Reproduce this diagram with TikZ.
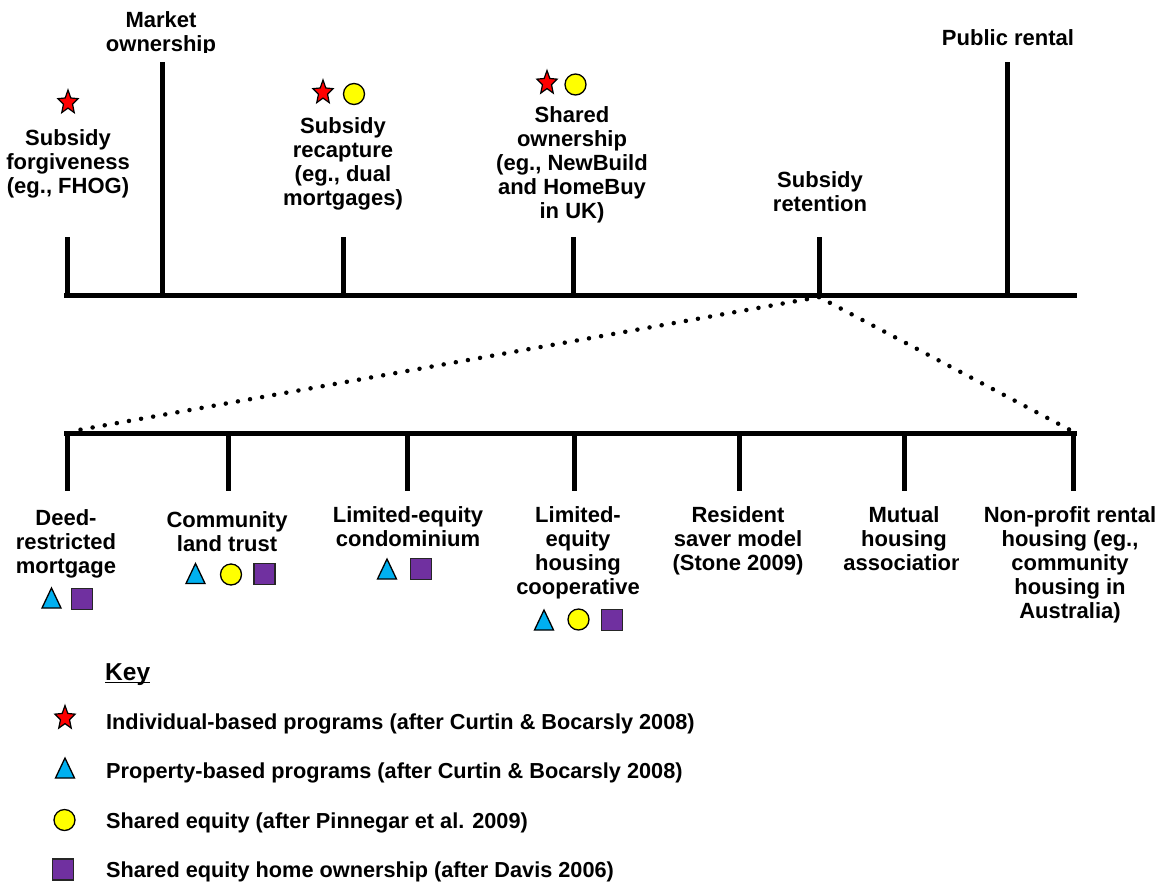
\documentclass[tikz,border=0pt]{standalone}
\usepackage{fontspec}
\setmainfont{Liberation Sans}
\definecolor{starred}{RGB}{255,0,0}
\definecolor{tricyan}{RGB}{0,176,240}
\definecolor{dotyellow}{RGB}{255,255,0}
\definecolor{sqpurple}{RGB}{112,48,160}
\begin{document}
\begin{tikzpicture}[x=1pt,y=-1pt,
  axisline/.style={line width=5pt},
  tickline/.style={line width=5pt},
  fan/.style={line width=4.5pt, line cap=round, dash pattern=on 0pt off 12.3pt},
  lbl/.style={font=\bfseries\fontsize{22}{24.2}\selectfont, align=center, inner sep=0pt, anchor=north},
  keytxt/.style={font=\bfseries\fontsize{21.7}{24}\selectfont, inner sep=0pt, anchor=base west},
  circsym/.style={circle, draw=black, line width=1.3pt, fill=dotyellow, minimum size=21pt, inner sep=0pt},
  sqsym/.style={rectangle, draw=black!85, line width=1.3pt, fill=sqpurple, minimum size=21pt, inner sep=0pt},
  starsym/.pic={\draw[fill=starred, line width=1.2pt, line join=miter, xscale=0.85, yscale=-1]
      (90:12.5) -- (126:5.6) -- (162:12.5) -- (198:5.6) -- (234:12.5) -- (270:5.6)
      -- (306:12.5) -- (342:5.6) -- (18:12.5) -- (54:5.6) -- cycle;},
  trisym/.pic={\draw[fill=tricyan, line width=1.3pt, line join=miter]
      (-9.5,10) -- (9.5,10) -- (0,-10) -- cycle;}
]
\useasboundingbox (0,0) rectangle (1166,881);

% ---------- top axis ----------
\coordinate (tA) at (64,295);
\coordinate (tB) at (1077,295);
\draw[axisline] (tA) -- (tB);
\foreach \x/\t/\n in {67/237/f, 162/62/m, 343/237/r, 573/237/s, 819/237/ret, 1007/62/p}{
  \coordinate (tt\n) at (\x,\t);
  \coordinate (tb\n) at (\x,295);
  \draw[tickline] (tt\n) -- (tb\n);
}

% ---------- bottom axis ----------
\coordinate (bA) at (64,433);
\coordinate (bB) at (1077,433);
\draw[axisline] (bA) -- (bB);
\foreach \x/\n in {67/d, 228/c, 407/le, 574/lh, 739/rs, 904/mh, 1073/np}{
  \coordinate (bt\n) at (\x,433);
  \coordinate (bb\n) at (\x,491);
  \draw[tickline] (bt\n) -- (bb\n);
}

% ---------- dotted fan ----------
\coordinate (fanTop) at (819,297);
\coordinate (fanL) at (73,431);
\coordinate (fanR) at (1072,431);
\draw[fan] (fanTop) -- (fanL);
\draw[fan] (fanTop) -- (fanR);

% ---------- top labels ----------
\begin{scope}
  \clip (90,0) rectangle (240,52);
  \node[lbl] (lm) at (161,11) {Market\\ownership};
\end{scope}
\node[lbl] (lf) at (68,129) {Subsidy\\forgiveness\\(eg., FHOG)};
\node[lbl] (lr) at (343,117) {Subsidy\\recapture\\(eg., dual\\mortgages)};
\begin{scope}
  \clip (470,90) rectangle (680,222);
  \node[lbl] (ls) at (572,106) {Shared\\ownership\\(eg., NewBuild\\and HomeBuy\\in UK)};
\end{scope}
\node[lbl] (lret) at (820,171) {Subsidy\\retention};
\node[lbl] (lp) at (1008,29) {Public rental};

% top symbols
\pic at (68,102.5) {starsym};
\pic at (323,92.5) {starsym};
\node[circsym] (cr) at (354,94) {};
\pic at (547,83) {starsym};
\node[circsym] (cs) at (575.5,84.5) {};

% ---------- bottom labels ----------
\node[lbl] (ld) at (66,509) {Deed-\\restricted\\mortgage};
\node[lbl] (lc) at (227,511) {Community\\land trust};
\node[lbl] (lle) at (408,506) {Limited-equity\\condominium};
\node[lbl] (llh) at (578,506) {Limited-\\equity\\housing\\cooperative};
\node[lbl] (lrs) at (738,506) {Resident\\saver model\\(Stone 2009)};
\begin{scope}
  \clip (820,495) rectangle (958,590);
  \node[lbl] (lmh) at (904,506) {Mutual\\housing\\association};
\end{scope}
\node[lbl] (lnp) at (1070,506) {Non-profit rental\\housing (eg.,\\community\\housing in\\Australia)};

% bottom symbols
\pic at (51.5,598) {trisym};
\node[sqsym] (sd) at (82,599) {};
\pic at (195.5,573.5) {trisym};
\node[circsym] (cc) at (231,574.5) {};
\node[sqsym] (sc) at (264.5,574) {};
\pic at (387,569) {trisym};
\node[sqsym] (sle) at (421,569) {};
\pic at (544,620) {trisym};
\node[circsym] (clh) at (578.5,619.5) {};
\node[sqsym] (slh) at (612,620) {};

% ---------- key ----------
\node[keytxt, font=\bfseries\fontsize{24.5}{26}\selectfont] (key) at (105,680) {Key};
\draw[line width=1.8pt] ([yshift=-2.5pt]key.base west) -- ([yshift=-2.5pt]key.base east);

\pic at (65,718) {starsym};
\node[keytxt] (k1) at (106,729) {Individual-based programs (after Curtin \& Bocarsly 2008)};
\pic at (65,768) {trisym};
\node[keytxt] (k2) at (106,778) {Property-based programs (after Curtin \& Bocarsly 2008)};
\node[circsym] (kc) at (64.5,820) {};
\node[keytxt] (k3) at (106,828) {Shared equity (after Pinnegar et al. 2009)};
\node[sqsym] (ks) at (63,869.5) {};
\node[keytxt] (k4) at (106,877) {Shared equity home ownership (after Davis 2006)};
\end{tikzpicture}
\end{document}
